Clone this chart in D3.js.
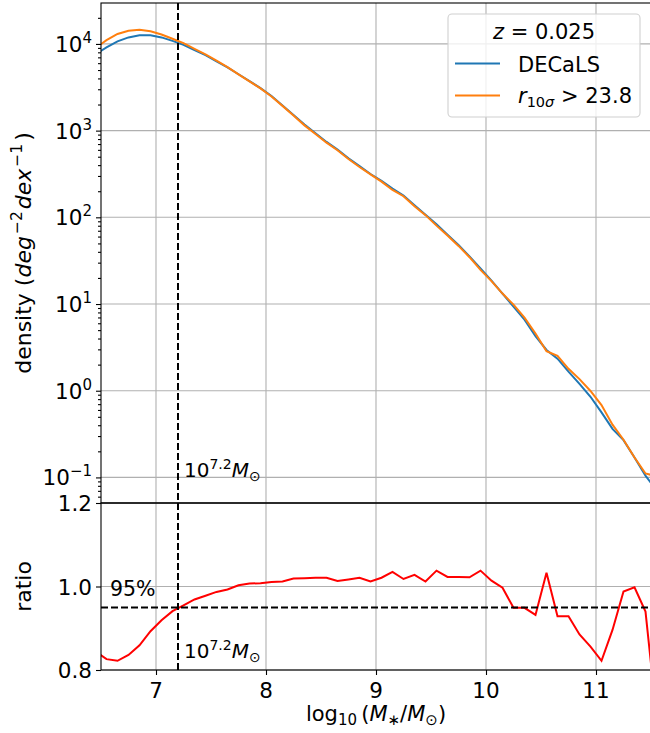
<!DOCTYPE html>
<html>
<head>
<meta charset="utf-8">
<script src="https://cdn.jsdelivr.net/npm/d3@7"></script>
<style>
body { margin: 0; background: #fff; }
text { font-family: "DejaVu Sans", sans-serif; fill: #000; }
</style>
</head>
<body>
<div id="chart"></div>
<script>
// bin centres in log10(M*/Msun)
const massBins = [6.45, 6.55, 6.65, 6.75, 6.85, 6.95, 7.05, 7.15, 7.25, 7.35,
    7.45, 7.55, 7.65, 7.75, 7.85, 7.95, 8.05, 8.15, 8.25, 8.35,
    8.45, 8.55, 8.65, 8.75, 8.85, 8.95, 9.05, 9.15, 9.25, 9.35,
    9.45, 9.55, 9.65, 9.75, 9.85, 9.95, 10.05, 10.15, 10.25, 10.35,
    10.45, 10.55, 10.65, 10.75, 10.85, 10.95, 11.05, 11.15, 11.25, 11.35,
    11.45, 11.55];
const decalsDensity = [7590, 9120, 10720, 11890, 12590, 12590, 11890, 10840, 9770, 8510,
    7410, 6310, 5370, 4470, 3720, 3090, 2510, 1950, 1510, 1175,
    933, 741, 603, 479, 389, 316, 263, 214, 178, 138,
    107, 83.2, 63.1, 47.9, 35.5, 25.7, 18.6, 13.2, 9.33, 6.61,
    4.27, 2.95, 2.34, 1.66, 1.20, 0.851, 0.562, 0.363, 0.269, 0.170,
    0.105, 0.0708];
const deepDensity = [8970, 11040, 13030, 14220, 14550, 14000, 12850, 11480, 10210, 8790,
    7590, 6400, 5410, 4460, 3690, 3070, 2480, 1930, 1490, 1150,
    914, 726, 594, 471, 381, 313, 258, 207, 175, 134,
    106, 80.2, 61.7, 46.8, 34.7, 24.8, 18.4, 13.2, 9.84, 6.97,
    4.58, 2.86, 2.52, 1.79, 1.36, 0.994, 0.684, 0.406, 0.272, 0.170,
    0.111, 0.103];
const ratio = [0.845, 0.826, 0.822, 0.836, 0.859, 0.893, 0.919, 0.941, 0.955, 0.969,
    0.978, 0.987, 0.993, 1.003, 1.007, 1.008, 1.011, 1.012, 1.019, 1.020,
    1.021, 1.021, 1.013, 1.017, 1.021, 1.012, 1.021, 1.035, 1.018, 1.028,
    1.012, 1.038, 1.023, 1.023, 1.022, 1.038, 1.014, 0.997, 0.949, 0.949,
    0.932, 1.033, 0.929, 0.929, 0.885, 0.856, 0.822, 0.896, 0.988, 0.998,
    0.940, 0.69];

const massTicks = [7, 8, 9, 10, 11];
const densityTicks = [0.1, 1, 10, 100, 1000, 10000];
const densityTickExps = ["\u22121", "0", "1", "2", "3", "4"];
const ratioTicks = [0.8, 1.0, 1.2];
const ratioTickLabels = ["0.8", "1.0", "1.2"];
const massLimit = 7.2;
const completeness = 0.95;

const W = 650, H = 733;
const axLeft = 101, axRight = 651, axTop = 3, axMid = 503, axBottom = 670;
const gridColor = "#b0b0b0";
const fs = 21.5, supFs = 15;

const svg = d3.select("#chart").append("svg")
    .attr("width", W).attr("height", H)
    .attr("font-size", fs);

const x = d3.scaleLinear().domain([6.5, 11.5]).range([axLeft, axRight]);
const yTop = d3.scaleLog().domain([0.0507, 29650]).range([axMid, axTop]);
const yBot = d3.scaleLinear().domain([0.8, 1.2]).range([axBottom, axMid]);

const defs = svg.append("defs");
defs.append("clipPath").attr("id", "clipTop")
    .append("rect").attr("x", axLeft).attr("y", axTop).attr("width", axRight - axLeft).attr("height", axMid - axTop);
defs.append("clipPath").attr("id", "clipBot")
    .append("rect").attr("x", axLeft).attr("y", axMid).attr("width", axRight - axLeft).attr("height", axBottom - axMid);

// grid
const grid = svg.append("g").attr("stroke", gridColor).attr("stroke-width", 1.1);
grid.selectAll(".vt").data(massTicks).enter().append("line")
    .attr("x1", d => x(d)).attr("x2", d => x(d)).attr("y1", axTop).attr("y2", axMid);
grid.selectAll(".vb").data(massTicks).enter().append("line")
    .attr("x1", d => x(d)).attr("x2", d => x(d)).attr("y1", axMid).attr("y2", axBottom);
grid.selectAll(".ht").data(densityTicks).enter().append("line")
    .attr("x1", axLeft).attr("x2", axRight).attr("y1", d => yTop(d)).attr("y2", d => yTop(d));
grid.selectAll(".hb").data(ratioTicks).enter().append("line")
    .attr("x1", axLeft).attr("x2", axRight).attr("y1", d => yBot(d)).attr("y2", d => yBot(d));

// density curves
const lineTop = d3.line().x((d, i) => x(massBins[i])).y(d => yTop(d));
const curves = svg.append("g").attr("clip-path", "url(#clipTop)");
curves.append("path").datum(decalsDensity).attr("d", lineTop)
    .attr("fill", "none").attr("stroke", "#1f77b4").attr("stroke-width", 2);
curves.append("path").datum(deepDensity).attr("d", lineTop)
    .attr("fill", "none").attr("stroke", "#ff7f0e").attr("stroke-width", 2);

// ratio
const lineBot = d3.line().x((d, i) => x(massBins[i])).y(d => yBot(d));
const ratioG = svg.append("g").attr("clip-path", "url(#clipBot)");
ratioG.append("path").datum(ratio).attr("d", lineBot)
    .attr("fill", "none").attr("stroke", "#ff0000").attr("stroke-width", 2);
ratioG.append("line")
    .attr("x1", axLeft).attr("x2", axRight)
    .attr("y1", yBot(completeness)).attr("y2", yBot(completeness))
    .attr("stroke", "#000").attr("stroke-width", 2).attr("stroke-dasharray", "7,3");

// mass limit
svg.append("line")
    .attr("x1", x(massLimit)).attr("x2", x(massLimit)).attr("y1", axTop).attr("y2", axBottom)
    .attr("stroke", "#000").attr("stroke-width", 2).attr("stroke-dasharray", "7,3");

// spines
svg.append("rect").attr("x", axLeft).attr("y", axTop).attr("width", axRight - axLeft).attr("height", axMid - axTop)
    .attr("fill", "none").attr("stroke", "#000").attr("stroke-width", 1.1);
svg.append("rect").attr("x", axLeft).attr("y", axMid).attr("width", axRight - axLeft).attr("height", axBottom - axMid)
    .attr("fill", "none").attr("stroke", "#000").attr("stroke-width", 1.1);

// axes ticks
const minorTicks = yTop.ticks().filter(v => Math.abs(Math.log10(v) - Math.round(Math.log10(v))) > 1e-6);
const gTopMinor = svg.append("g").attr("transform", `translate(${axLeft},0)`)
    .call(d3.axisLeft(yTop).tickValues(minorTicks).tickSize(3).tickFormat(""));
const gTop = svg.append("g").attr("transform", `translate(${axLeft},0)`)
    .call(d3.axisLeft(yTop).tickValues(densityTicks).tickSize(5).tickFormat(""));
const gBot = svg.append("g").attr("transform", `translate(${axLeft},0)`)
    .call(d3.axisLeft(yBot).tickValues(ratioTicks).tickSize(5).tickFormat(""));
const gX = svg.append("g").attr("transform", `translate(0,${axBottom})`)
    .call(d3.axisBottom(x).tickValues(massTicks).tickSize(5).tickFormat(""));
[gTopMinor, gTop, gBot, gX].forEach(a => {
    a.select(".domain").remove();
    a.selectAll(".tick line").attr("stroke", "#000").attr("stroke-width", 1.1);
});

// tick labels
const topLabels = svg.selectAll(".tlab").data(densityTicks).enter().append("text")
    .attr("x", 92).attr("y", d => yTop(d) + 8).attr("text-anchor", "end");
topLabels.append("tspan").text("10");
topLabels.append("tspan").attr("font-size", supFs).attr("dy", -9).text((d, i) => densityTickExps[i]);

svg.selectAll(".blab").data(ratioTicks).enter().append("text")
    .attr("x", 92).attr("y", d => yBot(d) + 8).attr("text-anchor", "end")
    .text((d, i) => ratioTickLabels[i]);

svg.selectAll(".xlab").data(massTicks).enter().append("text")
    .attr("x", d => x(d)).attr("y", 698).attr("text-anchor", "middle")
    .text(d => d);

// axis titles
const yTitle = svg.append("text").attr("text-anchor", "middle").attr("font-size", 22)
    .attr("transform", `translate(31,${(axTop + axMid) / 2}) rotate(-90)`);
yTitle.append("tspan").text("density (");
yTitle.append("tspan").attr("font-style", "italic").text("deg");
yTitle.append("tspan").attr("font-size", 15.5).attr("dx", 2).attr("dy", -9).text("\u22122");
yTitle.append("tspan").attr("font-style", "italic").attr("dx", 2).attr("dy", 9).text("dex");
yTitle.append("tspan").attr("font-size", 15.5).attr("dx", 2).attr("dy", -9).text("\u22121");
yTitle.append("tspan").attr("dx", 3).attr("dy", 9).text(")");

svg.append("text").attr("text-anchor", "middle").attr("font-size", 22)
    .attr("transform", `translate(31,${(axMid + axBottom) / 2}) rotate(-90)`)
    .text("ratio");

const xTitle = svg.append("text").attr("x", (axLeft + axRight) / 2).attr("y", 721)
    .attr("text-anchor", "middle").attr("font-size", 21);
xTitle.append("tspan").text("log");
xTitle.append("tspan").attr("font-size", 15).attr("dy", 4).text("10");
xTitle.append("tspan").attr("dy", -4).text("\u2009(");
xTitle.append("tspan").attr("font-style", "italic").text("M");
xTitle.append("tspan").attr("font-size", 15).attr("dy", 4).text("\u2217");
xTitle.append("tspan").attr("dy", -4).text("/");
xTitle.append("tspan").attr("font-style", "italic").text("M");
xTitle.append("tspan").attr("font-size", 15).attr("dy", 4).text("\u2299");
xTitle.append("tspan").attr("dy", -4).text(")");

// annotations
function massLabel(y) {
    const t = svg.append("text").attr("x", 184).attr("y", y).attr("font-size", 20);
    t.append("tspan").text("10");
    t.append("tspan").attr("font-size", 14).attr("dy", -8).text("7.2");
    t.append("tspan").attr("font-style", "italic").attr("dy", 8).text("M");
    t.append("tspan").attr("font-size", 14).attr("dy", 4).text("\u2299");
}
massLabel(477);
massLabel(658);
svg.append("text").attr("x", 110).attr("y", 596).attr("font-size", 20.5).text("95%");

// legend
const lg = svg.append("g").attr("font-size", 21);
lg.append("rect").attr("x", 448).attr("y", 14).attr("width", 192).attr("height", 103)
    .attr("rx", 4).attr("fill", "#fff").attr("fill-opacity", 0.8)
    .attr("stroke", "#d0d0d0").attr("stroke-width", 1.1);
const lt = lg.append("text").attr("x", 544).attr("y", 39).attr("text-anchor", "middle");
lt.append("tspan").attr("font-style", "italic").text("z");
lt.append("tspan").text(" = 0.025");
lg.append("line").attr("x1", 455).attr("x2", 500).attr("y1", 63.5).attr("y2", 63.5)
    .attr("stroke", "#1f77b4").attr("stroke-width", 2);
lg.append("text").attr("x", 518).attr("y", 72).text("DECaLS");
lg.append("line").attr("x1", 455).attr("x2", 500).attr("y1", 95.5).attr("y2", 95.5)
    .attr("stroke", "#ff7f0e").attr("stroke-width", 2);
const l2 = lg.append("text").attr("x", 518).attr("y", 103);
l2.append("tspan").attr("font-style", "italic").text("r");
l2.append("tspan").attr("font-size", 14.5).attr("dy", 4).text("10");
l2.append("tspan").attr("font-size", 14.5).attr("font-style", "italic").text("\u03c3");
l2.append("tspan").attr("dy", -4).text(" > 23.8");
</script>
</body>
</html>
